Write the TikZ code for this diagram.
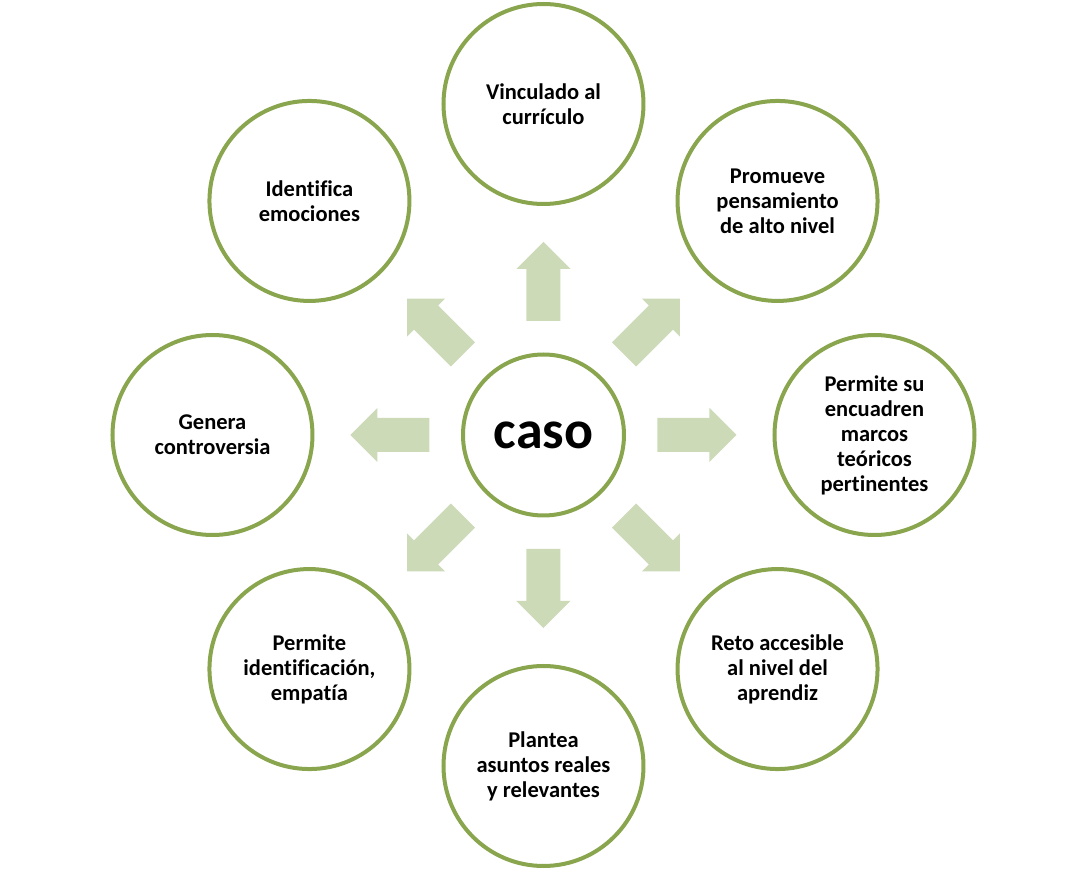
\documentclass[tikz,border=0pt]{standalone}
\usepackage{fontspec}
\setmainfont{Carlito}[Ligatures=NoCommon]
\definecolor{ringcol}{HTML}{89A54E}
\definecolor{arrowcol}{HTML}{CDDAB8}
\begin{document}
\begin{tikzpicture}[x=1pt,y=1pt,
  ring/.style={circle, draw=ringcol, line width=4pt, fill=white, inner sep=0pt,
    minimum size=200pt, align=center, font=\fontsize{22.5}{25}\selectfont\bfseries},
  hub/.style={circle, draw=ringcol, line width=4pt, fill=white, inner sep=0pt,
    minimum size=161pt, font=\fontsize{54}{60}\selectfont\bfseries},
  blockarrow/.style={fill=arrowcol}]
\useasboundingbox (-543.5,-435) rectangle (544.5,435);
\node[hub] (c) at (0,0) {caso};
\foreach \a in {0,45,...,315}{
  \fill[blockarrow, rotate=\a] (114,-17) -- (166,-17) -- (166,-27) -- (193,0)
    -- (166,27) -- (166,17) -- (114,17) -- cycle;
}
\node[ring] (n1) at (90:331) {Vinculado al\\currículo};
\node[ring] (n2) at (45:331) {Promueve\\pensamiento\\de alto nivel};
\node[ring] (n3) at (0:331) {Permite su\\encuadren\\marcos\\teóricos\\pertinentes};
\node[ring] (n4) at (-45:331) {Reto accesible\\al nivel del\\aprendiz};
\node[ring] (n5) at (-90:331) {Plantea\\asuntos reales\\y relevantes};
\node[ring] (n6) at (-135:331) {Permite\\identificación,\\empatía};
\node[ring] (n7) at (180:331) {Genera\\controversia};
\node[ring] (n8) at (135:331) {Identifica\\emociones};
\end{tikzpicture}
\end{document}
